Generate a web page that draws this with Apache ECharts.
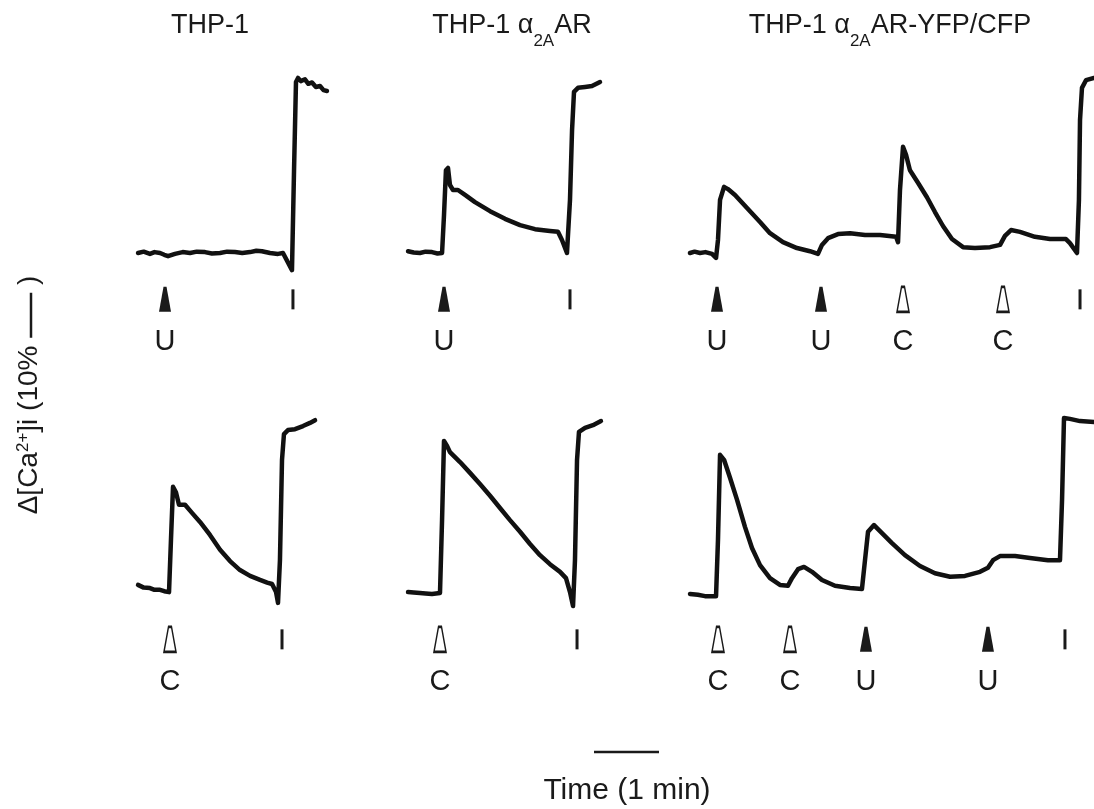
<!DOCTYPE html>
<html>
<head>
<meta charset="utf-8">
<script src="https://cdn.jsdelivr.net/npm/echarts@6/dist/echarts.min.js"></script>
<style>
  html, body { margin: 0; padding: 0; background: #fff; }
  #chart { width: 1094px; height: 809px; }
</style>
</head>
<body>
<div id="chart"></div>
<script>
// time in s from start of recording, response as change in % ([Ca2+]i)
const traceTopThp1 = [
  [2.8, 0], [8, 0.3], [13.8, -0.2], [18, 0.2], [23.1, 0], [27, -0.4], [30.5, -0.7], [36.9, -0.2],
  [44, 0.2], [50.8, 0], [57, 0.3], [64.6, 0.2], [71, -0.1], [78.5, 0], [85, 0.3], [92.3, 0.2],
  [99, 0], [106.2, 0.2], [112, 0.5], [117.2, 0.4], [124.6, 0], [132, -0.2], [136.6, 0],
  [144.9, -3.8], [146.8, 18.4], [148.6, 38], [150.5, 38.9], [153, 38.2], [156.9, 38.6],
  [160, 37.6], [163.4, 37.9], [167, 36.9], [170.8, 37.1], [174, 36.2], [177.2, 36]
];
const traceTopAlpha = [
  [2.8, 0.4], [8, 0.1], [13.8, 0], [19, 0.3], [24.9, 0.2], [30, -0.1], [34.2, 0],
  [36, 8.4], [37.8, 18.4], [39.7, 18.9], [41.5, 15.1], [44.3, 14], [48.9, 14],
  [55.4, 12.9], [64.6, 11.3], [78.5, 9.3], [92.3, 7.6], [106.2, 6.2], [120, 5.3],
  [133.8, 4.9], [141.2, 4.7], [144.9, 2.9], [149.5, 0], [152.3, 11.8], [154.2, 27.3],
  [156, 35.8], [159.7, 36.7], [166.2, 36.9], [172.6, 37.1], [180, 38]
];
const traceTopFret = [
  [2.8, 0], [7, 0.3], [12, 0], [17, 0.2], [23.1, -0.2], [26.8, -1.1], [28.6, 2.9], [30.5, 11.8],
  [34.2, 14.7], [37.8, 14.2], [44.3, 12.9], [55.4, 10], [67.4, 6.9], [76.6, 4.4],
  [88.6, 2.4], [101.5, 1.1], [113.5, 0.4], [120.9, -0.2], [124.6, 1.8], [130.2, 3.3],
  [139.4, 4.2], [150.5, 4.4], [164.3, 4], [178.2, 4], [193, 3.6], [194.8, 2.4],
  [196.6, 14], [199.4, 23.6], [202.2, 21.8], [205.8, 18.4], [213.2, 15.6], [221.5, 12.4],
  [228.9, 9.1], [236.3, 6], [244.6, 3.1], [254.8, 1.3], [265.8, 1.1], [279.7, 1.3],
  [289, 1.8], [293.5, 3.8], [299.1, 5.1], [307.4, 4.7], [321.2, 3.6], [335.1, 3.1],
  [349.8, 3.1], [353.5, 2.2], [360, 0], [361.8, 11.8], [362.8, 29.6], [364.6, 36.7],
  [368.3, 38.4], [375.7, 38.9]
];
const traceBotThp1 = [
  [2.8, 1.8], [8, 1.2], [13.8, 1.1], [18, 0.7], [23.1, 0.7], [27, 0.4], [31.4, 0.2],
  [33.2, 11.8], [35.1, 23.6], [37.8, 22.4], [40.6, 19.6], [46.2, 19.6], [52.6, 17.8],
  [60, 15.8], [69.2, 12.9], [78.5, 9.6], [87.7, 7.1], [96.9, 5.1], [106.2, 3.8],
  [115.4, 2.9], [122, 2.3], [126.5, 2], [130.2, 0.2], [132, -2.2], [133.8, 7.3],
  [135.7, 29.6], [137.5, 35.3], [141.2, 36.2], [147.7, 36.4], [155.1, 37.1],
  [161.5, 37.8], [166.2, 38.4]
];
const traceBotAlpha = [
  [2.8, 0.2], [8, 0.1], [13.8, 0], [19, -0.1], [24.9, -0.2], [32.3, 0], [34.2, 16.2],
  [36, 33.8], [38.8, 32.7], [41.5, 31.3], [50.8, 29.1], [60, 26.7], [69.2, 24.2],
  [78.5, 21.6], [87.7, 18.9], [96.9, 16.2], [106.2, 13.6], [115.4, 10.9], [124.6, 8.4],
  [133.8, 6.4], [143.1, 4.7], [148.6, 3.3], [152.3, 0.2], [155.1, -2.9], [156.9, 7.3],
  [158.8, 29.6], [160.6, 35.8], [166.2, 36.7], [173.5, 37.3], [180.9, 38.2]
];
const traceBotFret = [
  [2.8, -0.2], [10, -0.4], [16.6, -0.7], [26.8, -0.7], [28.6, 11.8], [30.5, 30.7],
  [34.2, 29.6], [39.7, 25.6], [46.2, 20.7], [53.5, 14.7], [60, 10], [67.4, 6.2],
  [76.6, 3.3], [85.8, 1.8], [93.2, 1.6], [96.9, 3.3], [102.5, 5.3], [108, 5.8],
  [115.4, 4.7], [124.6, 2.9], [136.6, 1.6], [150.5, 1.1], [161.5, 0.9], [164.3, 7.3],
  [167.1, 13.6], [172.6, 15.1], [180, 13.3], [189.2, 11.1], [201.2, 8.4], [215.1, 6],
  [228.9, 4.4], [242.8, 3.6], [256.6, 3.8], [270.5, 4.7], [277.8, 5.6], [282.5, 7.3],
  [288.9, 8.2], [302.8, 8.2], [316.6, 7.8], [333.2, 7.3], [344.3, 7.3], [346.2, 20.7],
  [348, 38.9], [353.5, 38.7], [362.8, 38.2], [375.7, 38]
];

// additions: U = UK14304, C = clonidine, I = ionomycin
const stimTopThp1 = [[27.7, 'U'], [145.8, 'I']];
const stimTopAlpha = [[36, 'U'], [152.3, 'I']];
const stimTopFret = [[27.7, 'U'], [123.7, 'U'], [199.4, 'C'], [291.7, 'C'], [362.8, 'I']];
const stimBotThp1 = [[32.3, 'C'], [135.7, 'I']];
const stimBotAlpha = [[32.3, 'C'], [158.8, 'I']];
const stimBotFret = [[28.6, 'C'], [95.1, 'C'], [165.2, 'U'], [277.8, 'U'], [348.9, 'I']];

const FONT = '"Liberation Sans", Arial, Helvetica, sans-serif';
const INK = '#1a1a1a';
const PX_PER_S = 65 / 60;     // 1 min scale bar = 65 px
const PX_PER_PCT = 4.5;       // 10 % = 45 px
const Y_MIN = -26, Y_MAX = 47.5;
const MARK_Y = -10.3;

const cols = [
  { left: 135, tMax: 180 },
  { left: 405, tMax: 182 },
  { left: 687, tMax: 375.7 }
];
const rowBase = [253, 593];   // baseline pixel of each row
const panels = [
  { row: 0, col: 0, trace: traceTopThp1, stim: stimTopThp1 },
  { row: 0, col: 1, trace: traceTopAlpha, stim: stimTopAlpha },
  { row: 0, col: 2, trace: traceTopFret, stim: stimTopFret },
  { row: 1, col: 0, trace: traceBotThp1, stim: stimBotThp1 },
  { row: 1, col: 1, trace: traceBotAlpha, stim: stimBotAlpha },
  { row: 1, col: 2, trace: traceBotFret, stim: stimBotFret }
];

const triPath = 'path://M4.5,0 L7.5,0 L12,25 L0,25 Z';

function stimItem(s) {
  const t = s[0], kind = s[1];
  if (kind === 'I') {
    return { value: [t, MARK_Y], symbol: 'rect', symbolSize: [3, 20],
             itemStyle: { color: INK, opacity: 1 }, label: { show: false } };
  }
  return {
    value: [t, MARK_Y],
    symbol: triPath,
    symbolSize: [12, 25],
    itemStyle: kind === 'U'
      ? { color: INK, opacity: 1 }
      : { color: '#fff', borderColor: INK, borderWidth: 2, opacity: 1 },
    label: { show: true, formatter: kind }
  };
}

const grid = [], xAxis = [], yAxis = [], series = [];
panels.forEach((p, i) => {
  const c = cols[p.col];
  grid.push({
    left: c.left,
    top: rowBase[p.row] - Y_MAX * PX_PER_PCT,
    width: c.tMax * PX_PER_S,
    height: (Y_MAX - Y_MIN) * PX_PER_PCT
  });
  xAxis.push({ type: 'value', gridIndex: i, min: 0, max: c.tMax, show: false });
  yAxis.push({ type: 'value', gridIndex: i, min: Y_MIN, max: Y_MAX, show: false });
  series.push({
    type: 'line',
    xAxisIndex: i, yAxisIndex: i,
    data: p.trace,
    showSymbol: false,
    clip: false,
    lineStyle: { color: '#111', width: 4.5, join: 'round', cap: 'round' }
  });
  series.push({
    type: 'scatter',
    xAxisIndex: i, yAxisIndex: i,
    data: p.stim.map(stimItem),
    itemStyle: { opacity: 1 },
    label: {
      position: 'inside',
      offset: [0, 43],
      color: INK,
      opacity: 1,
      fontSize: 29,
      fontFamily: FONT
    }
  });
});

function titleText(x, text) {
  return {
    type: 'text',
    x: x, y: 12,
    style: {
      text: text,
      align: 'center', textAlign: 'center',
      verticalAlign: 'top', textVerticalAlign: 'top',
      fill: INK,
      rich: {
        n: { fontSize: 27, fontFamily: FONT, lineHeight: 30, verticalAlign: 'top', fill: INK },
        s: { fontSize: 17, fontFamily: FONT, lineHeight: 17, verticalAlign: 'top',
             padding: [21, 0, 0, 0], fill: INK }
      }
    }
  };
}

const graphic = [
  titleText(210, '{n|THP-1}'),
  titleText(512, '{n|THP-1 α}{s|2A}{n|AR}'),
  titleText(890, '{n|THP-1 α}{s|2A}{n|AR-YFP/CFP}'),
  {
    type: 'text',
    x: 31, y: 395,
    rotation: Math.PI / 2,
    style: {
      text: '{n|Δ[Ca}{p|2+}{n|]i (10% }{bar| }{n| )}',
      align: 'center', textAlign: 'center',
      verticalAlign: 'middle', textVerticalAlign: 'middle',
      fill: INK,
      rich: {
        n: { fontSize: 28, fontFamily: FONT, lineHeight: 32, verticalAlign: 'top', fill: INK },
        p: { fontSize: 17, fontFamily: FONT, lineHeight: 17, verticalAlign: 'top', fill: INK },
        bar: { width: 45, height: 2.5, backgroundColor: INK, verticalAlign: 'middle' }
      }
    }
  },
  {
    type: 'line',
    shape: { x1: 594, y1: 752, x2: 594 + 60 * PX_PER_S, y2: 752 },
    style: { stroke: INK, lineWidth: 2.5 }
  },
  {
    type: 'text',
    x: 627, y: 791,
    style: {
      text: 'Time (1 min)',
      align: 'center', textAlign: 'center',
      verticalAlign: 'middle', textVerticalAlign: 'middle',
      fill: INK,
      fontSize: 30,
      fontFamily: FONT
    }
  }
];

const myChart = echarts.init(document.getElementById('chart'), null, { renderer: 'canvas' });
myChart.setOption({
  animation: false,
  backgroundColor: '#fff',
  grid: grid,
  xAxis: xAxis,
  yAxis: yAxis,
  series: series,
  graphic: graphic
});
</script>
</body>
</html>
